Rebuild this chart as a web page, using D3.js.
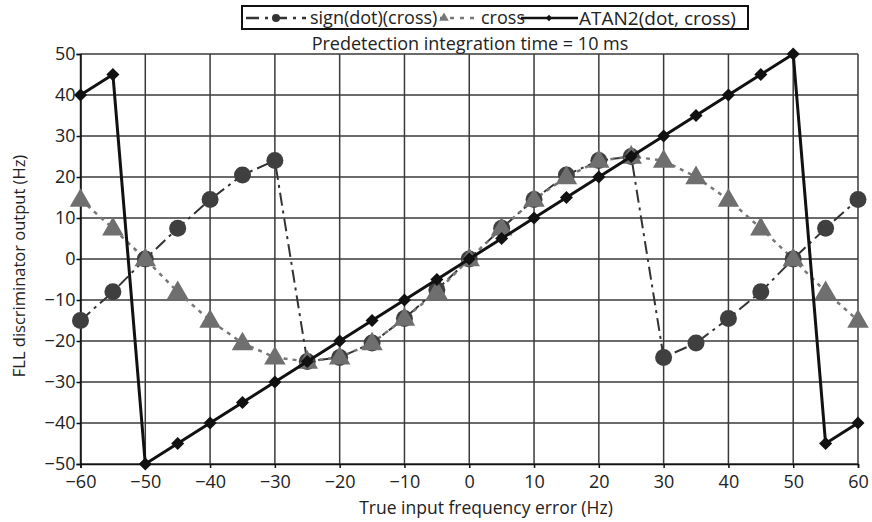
<!DOCTYPE html>
<html><head><meta charset="utf-8">
<script src="https://cdn.jsdelivr.net/npm/d3@7"></script>
<style>body{margin:0;background:#fff}svg{display:block}text{font-family:"Open Sans",sans-serif;fill:#222}</style>
</head><body>
<svg id="c" width="872" height="522"></svg>
<script>
const freqs = [-60,-55,-50,-45,-40,-35,-30,-25,-20,-15,-10,-5,0,5,10,15,20,25,30,35,40,45,50,55,60];
const signDotCross = [-15,-8,0,7.5,14.5,20.5,24,-25,-24,-20.5,-14.5,-7.5,0,7.5,14.5,20.5,24,25,-24,-20.5,-14.5,-8,0,7.5,14.5];
const crossVals = [14.5,7.5,0,-8,-15,-20.5,-24,-25,-24,-20.5,-14.5,-8,0,7.5,14.5,20,24,25,24,20,14.5,7.5,0,-8,-15];
const atan2Vals = [40,45,-50,-45,-40,-35,-30,-25,-20,-15,-10,-5,0,5,10,15,20,25,30,35,40,45,50,-45,-40];
const xTicks = [-60,-50,-40,-30,-20,-10,0,10,20,30,40,50,60];
const yTicks = [-50,-40,-30,-20,-10,0,10,20,30,40,50];
const seriesNames = ["sign(dot)(cross)","cross","ATAN2(dot, cross)"];
const titleText = "Predetection integration time = 10 ms";
const xTitle = "True input frequency error (Hz)";
const yTitle = "FLL discriminator output (Hz)";

const svg = d3.select("#c");
const x = d3.scaleLinear().domain([-60,60]).range([80.5,858]);
const y = d3.scaleLinear().domain([-50,50]).range([464,54]);
const fmt = d3.format("");

// grid
const g = svg.append("g");
g.selectAll(".vg").data(xTicks).join("line").attr("x1",d=>x(d)).attr("x2",d=>x(d)).attr("y1",y(50)).attr("y2",y(-50)).attr("stroke","#3a3a3a").attr("stroke-width",1.5);
g.selectAll(".hg").data(yTicks).join("line").attr("x1",x(-60)).attr("x2",x(60)).attr("y1",d=>y(d)).attr("y2",d=>y(d)).attr("stroke","#3a3a3a").attr("stroke-width",1.5);

// axes
const xAxis = d3.axisBottom(x).tickValues(xTicks).tickSize(4).tickPadding(3).tickFormat(fmt);
const yAxis = d3.axisLeft(y).tickValues(yTicks).tickSize(4).tickPadding(1).tickFormat(fmt);
const xa = svg.append("g").attr("transform",`translate(0,${y(-50)})`).call(xAxis);
const ya = svg.append("g").attr("transform",`translate(${x(-60)},0)`).call(yAxis);
[xa,ya].forEach(a=>{a.selectAll("path").attr("stroke","#111").attr("stroke-width",1.5);a.selectAll("line").attr("stroke","#111").attr("stroke-width",1.5);a.selectAll("text").style("font-size","18px").attr("fill","#222");});
xa.selectAll("text").attr("dy","0.95em");

// lines
const data = freqs.map((f,i)=>({f,s:signDotCross[i],c:crossVals[i],a:atan2Vals[i]}));
const line = k => d3.line().x(d=>x(d.f)).y(d=>y(d[k]));
svg.append("path").datum(data).attr("d",line("s")).attr("fill","none").attr("stroke","#333").attr("stroke-width",2).attr("stroke-dasharray","13,5,3,5");
svg.append("path").datum(data).attr("d",line("c")).attr("fill","none").attr("stroke","#777").attr("stroke-width",2.5).attr("stroke-dasharray","4,5");
svg.selectAll(".circ").data(data).join("circle").attr("cx",d=>x(d.f)).attr("cy",d=>y(d.s)).attr("r",8.5).attr("fill","#3f3f3f");
const tri = d3.symbol().type(d3.symbolTriangle).size(200);
svg.selectAll(".tri").data(data).join("path").attr("d",tri).attr("transform",d=>`translate(${x(d.f)},${y(d.c)+1})`).attr("fill","#6f6f6f");
svg.append("path").datum(data).attr("d",line("a")).attr("fill","none").attr("stroke","#111").attr("stroke-width",3);
const dia = d3.symbol().type(d3.symbolSquare).size(85);
svg.selectAll(".dia").data(data).join("path").attr("d",dia).attr("transform",d=>`translate(${x(d.f)},${y(d.a)}) rotate(45)`).attr("fill","#111");

// legend
const lg = svg.append("g");
lg.append("rect").attr("x",242).attr("y",6).attr("width",506).attr("height",23).attr("fill","#fff").attr("stroke","#111").attr("stroke-width",2);
const ly = 18;
lg.append("line").attr("x1",246).attr("x2",306).attr("y1",ly).attr("y2",ly).attr("stroke","#333").attr("stroke-width",2.5).attr("stroke-dasharray","13,6,3,6");
lg.append("circle").attr("cx",276).attr("cy",ly).attr("r",4).attr("fill","#333");
lg.append("text").attr("x",310).attr("y",ly).attr("dy","0.35em").style("font-size","18px").text(seriesNames[0]);
lg.append("line").attr("x1",440).attr("x2",476).attr("y1",ly).attr("y2",ly).attr("stroke","#777").attr("stroke-width",2.5).attr("stroke-dasharray","4,6");
lg.append("path").attr("d",d3.symbol().type(d3.symbolTriangle).size(40)).attr("transform",`translate(444,${ly})`).attr("fill","#777");
lg.append("text").attr("x",481).attr("y",ly).attr("dy","0.35em").style("font-size","18px").text(seriesNames[1]);
lg.append("line").attr("x1",521).attr("x2",578).attr("y1",ly).attr("y2",ly).attr("stroke","#111").attr("stroke-width",2.5);
lg.append("path").attr("d",d3.symbol().type(d3.symbolSquare).size(20)).attr("transform",`translate(549,${ly}) rotate(45)`).attr("fill","#111");
lg.append("text").attr("x",579).attr("y",ly).attr("dy","0.35em").style("font-size","19px").text(seriesNames[2]);

// titles
svg.append("text").attr("x",470).attr("y",50).attr("text-anchor","middle").style("font-size","18px").text(titleText);
svg.append("text").attr("x",486).attr("y",514).attr("text-anchor","middle").style("font-size","17.5px").text(xTitle);
svg.append("text").attr("transform",`translate(25,266) rotate(-90)`).attr("text-anchor","middle").style("font-size","16.5px").text(yTitle);
</script>
</body></html>
